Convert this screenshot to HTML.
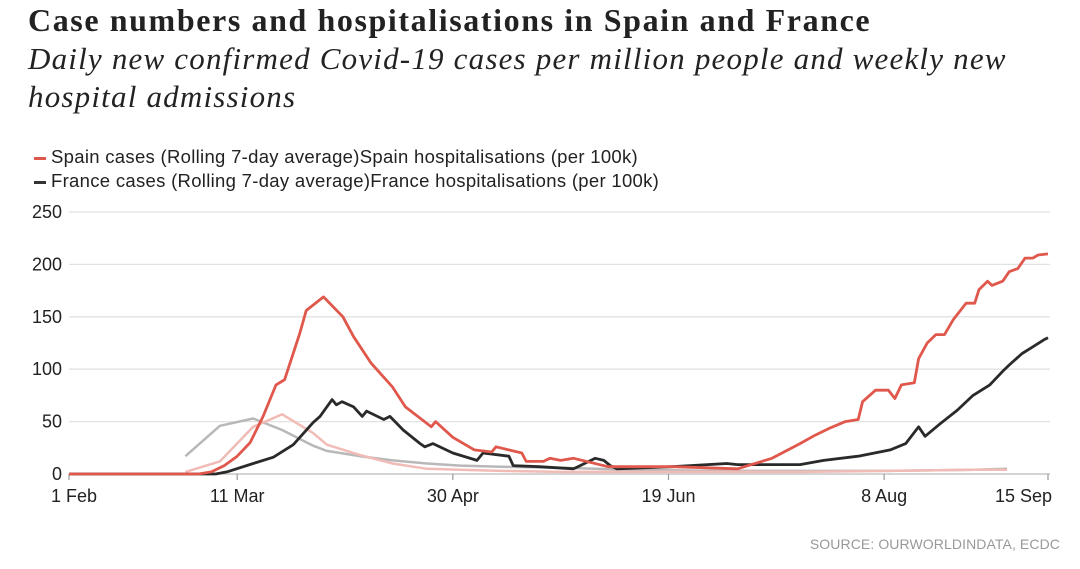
<!DOCTYPE html>
<html><head><meta charset="utf-8">
<style>
body{margin:0;background:#fff;width:1080px;height:569px;overflow:hidden;position:relative;font-family:"Liberation Sans",sans-serif;}
#title{position:absolute;left:28px;top:2px;font:bold 32px "Liberation Serif",serif;color:#222;letter-spacing:1.6px;white-space:nowrap}
#subtitle{position:absolute;left:28px;top:40px;width:1015px;font:italic 31px/38px "Liberation Serif",serif;color:#222;letter-spacing:1.2px}
.leg{position:absolute;left:34px;font-size:18.5px;color:#222;white-space:nowrap;letter-spacing:0.3px}
.sw{display:inline-block;width:12px;height:3px;vertical-align:middle;margin-right:5px}
#source{position:absolute;right:20px;top:536px;font-size:14px;color:#999;letter-spacing:0.1px}
svg{position:absolute;left:0;top:0}
svg text{font-family:"Liberation Sans",sans-serif;font-size:18px;fill:#222}
</style></head><body>
<div id="title">Case numbers and hospitalisations in Spain and France</div>
<div id="subtitle">Daily new confirmed Covid-19 cases per million people and weekly new hospital admissions</div>
<div class="leg" style="top:146px"><span class="sw" style="background:#e0574c"></span><span>Spain cases (Rolling 7-day average)</span><span>Spain hospitalisations (per 100k)</span></div>
<div class="leg" style="top:170px"><span class="sw" style="background:#333"></span><span>France cases (Rolling 7-day average)</span><span>France hospitalisations (per 100k)</span></div>
<svg id="chart" width="1080" height="569"></svg>
<div id="source">SOURCE: OURWORLDINDATA, ECDC</div>
<script>
// days since 1 Feb
const spainDays=[0,30,33,36,39,42,45,48,50,53.5,55,59,63.5,66,70,75,78,84,85,89,94,98,99,105,106,110,111.5,114,117,125,128,140,155,163,169.5,173,176.5,180,183,184,187,190,191.5,193,196,197,199,201,203,205,208,210,211,213,214,216.5,218,220,221.7,223.5,224.7,227];
const spainCases=[0,0,2,8,17,30,55,85,90,134,156,169,150,131,106,83,64,45,50,35,23,21,26,20,12,12,15,13,15,7,7,7,5,15,29,37,44,50,52,69,80,80,72,85,87,110,125,133,133,147,163,163,176,184,180,184,193,196,206,206,209,210];
const franceDays=[0,34,36.6,42.7,47.4,52,56.6,58.2,61,62,63.3,66,68,69,73,74.4,77.5,81.4,82.5,84.4,89,94.6,96,102,103,109,117,118,122,124,125.5,127,140,152.5,155,169.5,175,183,190.4,194,197,198.5,202,206,209.6,213.5,216.5,218,221,223,226,227];
const franceCases=[0,0,2,10,16,28,49,55,71,66,69,64,55,60,52,55,42,29,26,29,20,13,20,17,8,7,5,7,15,13,8,5,7,10,9,9,13,17,23,29,45,36,48,61,75,85,98,104,115,120,128,130];
const hospDays=[27,35,42.7,49.4,56.6,59.8,67.5,75,83,90.7,100,114,130,150,170,190,210,217.5];
const spainHosp=[2,12,45,57,39,28,18,10,5,4,3,2,2,2,2,3,4,4];
const franceHosp=[17,46,53,42,27,22,17,13,10,8,7,6,4,3,3,3,4,5];
const yTicks=[0,50,100,150,200,250];
const xTickDays=[0,39,89,139,189,227];
const xTickLabels=["1 Feb","11 Mar","30 Apr","19 Jun","8 Aug","15 Sep"];

const svg=document.getElementById('chart');
const NS='http://www.w3.org/2000/svg';
const x0=69,x1=1048,y0=474,yTop=212;
const xs=d=>x0+d*(x1-x0)/227;
const ys=v=>y0-v*(y0-yTop)/250;
function mk(t,a){const e=document.createElementNS(NS,t);for(const k in a)e.setAttribute(k,a[k]);svg.appendChild(e);return e;}
yTicks.forEach(v=>{
  const g=mk('line',{x1:69,x2:1050,y1:ys(v),y2:ys(v),stroke:v===0?'#bbb':'#e2e2e2','stroke-width':1.3});
  
  
  const t=mk('text',{x:62,y:ys(v)+6,'text-anchor':'end'});t.textContent=v;
  
  
});
xTickDays.forEach((d,i)=>{
  const l=mk('line',{x1:xs(d),x2:xs(d),y1:y0,y2:y0+6,stroke:'#999','stroke-width':1.2});
  
  
  const anchor=i===0?'start':(i===xTickDays.length-1?'end':'middle');
  const t=mk('text',{x:i===0?xs(d)-18:(i===xTickDays.length-1?xs(d)+4:xs(d)),y:y0+28,'text-anchor':anchor});t.textContent=xTickLabels[i];
  
  
});
function line(days,vals,color,w,name){
  const p=mk('polyline',{points:days.map((d,i)=>xs(d).toFixed(1)+','+ys(vals[i]).toFixed(1)).join(' '),fill:'none',stroke:color,'stroke-width':w,'stroke-linejoin':'round'});
  
  
}
line(hospDays,franceHosp,'#b8b8b8',2.5,'france-hosp-line');
line(hospDays,spainHosp,'#f1bbb6',2.5,'spain-hosp-line');
line(franceDays,franceCases,'#2a2a2a',2.8,'france-cases-line');
line(spainDays,spainCases,'#e0574c',2.8,'spain-cases-line');
</script>
</body></html>
